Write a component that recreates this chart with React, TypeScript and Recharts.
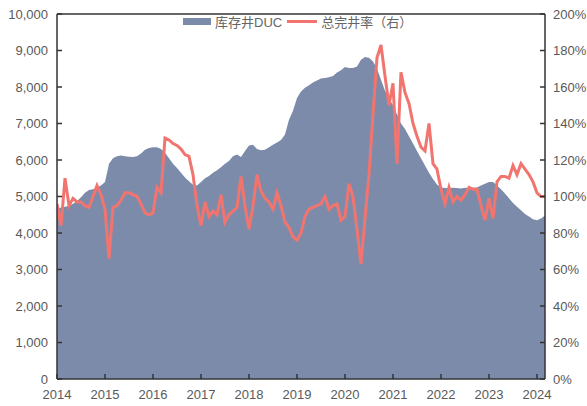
import React from "react";
import {
  ComposedChart,
  Area,
  Line,
  XAxis,
  YAxis,
  ReferenceLine,
} from "recharts";

// monthly, Jan 2014 .. Mar 2024
const START_YEAR = 2014;

const ducStock = [
  4650, 4700, 4720, 4750, 4800, 4880, 4980, 5100, 5180, 5200, 5250, 5300,
  5400, 5900, 6050, 6100, 6120, 6100, 6090, 6080, 6100, 6180, 6280, 6330,
  6350, 6350, 6300, 6200, 6050, 5900, 5780, 5650, 5520, 5420, 5320, 5300,
  5400, 5500, 5560, 5650, 5720, 5800, 5900, 5970, 6100, 6150, 6080, 6250,
  6400, 6420, 6300, 6270, 6280, 6350, 6420, 6480, 6550, 6700, 7100, 7350,
  7700, 7880, 7980, 8050, 8120, 8180, 8230, 8250, 8270, 8300, 8400, 8460,
  8550, 8520, 8520, 8560, 8750, 8820, 8800, 8700, 8500, 8200, 7900, 7700,
  7500, 7250, 7000, 6850, 6650, 6450, 6250, 6050, 5850, 5650, 5480, 5330,
  5250, 5230, 5230, 5240, 5230, 5220, 5240, 5230, 5240, 5250, 5300, 5350,
  5400, 5400, 5300, 5200, 5080, 4950, 4820, 4720, 4620, 4520, 4450, 4380,
  4350, 4400, 4480,
];

// 总完井率, %
const completionRate = [
  96, 84, 110, 95, 99, 97, 97, 95, 94, 100, 106, 101,
  93, 66, 94, 95, 98, 102, 102, 101, 100, 96, 91, 90,
  91, 105, 102, 132, 131, 129, 128, 126, 123, 122, 112, 95,
  84, 97, 89, 92, 90, 101, 86, 90, 92, 94, 111, 95,
  82, 95, 112, 103, 99, 97, 93, 102, 95, 86, 83, 78,
  76, 80, 89, 93, 94, 95, 96, 100, 93, 95, 96, 87,
  89, 107, 100, 82, 63, 88, 112, 145, 176, 183, 166, 150,
  162, 118, 168, 157, 151, 140, 133, 127, 125, 140, 118, 115,
  104, 96, 105, 97, 100, 98, 101, 105, 104, 104, 95, 87,
  99, 88, 108, 111, 111, 110, 117, 112, 118, 115, 112, 108,
  102, 100, 100,
];

const yearTicks = [2014, 2015, 2016, 2017, 2018, 2019, 2020, 2021, 2022, 2023, 2024];
const leftTicks = [0, 1000, 2000, 3000, 4000, 5000, 6000, 7000, 8000, 9000, 10000];
const rightTicks = [0, 20, 40, 60, 80, 100, 120, 140, 160, 180, 200];

const data = ducStock.map((v, i) => ({
  t: START_YEAR + i / 12,
  duc: v,
  rate: completionRate[i],
}));

const AREA_COLOR = "#7d8bab";
const LINE_COLOR = "#f1746f";
const AXIS_COLOR = "#333";
const FONT = "'Liberation Sans', 'Noto Sans CJK SC', sans-serif";
const tickStyle = { fill: "#595959", fontSize: 13, fontFamily: FONT };

export default function App() {
  return (
    <div style={{ position: "fixed", left: 0, top: 0, width: 587, height: 406, background: "#fff" }}>
      <ComposedChart
        width={587}
        height={406}
        data={data}
        margin={{ top: 14, right: 0, bottom: 0, left: 0 }}
      >
        <XAxis
          dataKey="t"
          type="number"
          domain={[2014, 2024.167]}
          ticks={yearTicks}
          height={27}
          tickSize={-5}
          tickMargin={16}
          tick={tickStyle}
          stroke={AXIS_COLOR}
          strokeWidth={1.5}
          allowDataOverflow
        />
        <YAxis
          yAxisId="left"
          domain={[0, 10000]}
          ticks={leftTicks}
          width={57}
          tickSize={-5}
          tickMargin={14}
          tick={tickStyle}
          stroke={AXIS_COLOR}
          strokeWidth={1.5}
          tickFormatter={(v: number) => v.toLocaleString("en-US")}
        />
        <YAxis
          yAxisId="right"
          orientation="right"
          domain={[0, 200]}
          ticks={rightTicks}
          width={42}
          tickSize={-5}
          tickMargin={13}
          tick={tickStyle}
          stroke={AXIS_COLOR}
          strokeWidth={1.5}
          tickFormatter={(v: number) => `${v}%`}
        />
        <Area
          yAxisId="left"
          dataKey="duc"
          type="linear"
          fill={AREA_COLOR}
          fillOpacity={1}
          stroke="none"
          isAnimationActive={false}
        />
        <Line
          yAxisId="right"
          dataKey="rate"
          type="linear"
          stroke={LINE_COLOR}
          strokeWidth={3}
          dot={false}
          isAnimationActive={false}
        />
        <ReferenceLine yAxisId="left" y={10000} stroke={AXIS_COLOR} strokeWidth={1.5} />
      </ComposedChart>
      <div
        style={{
          position: "absolute",
          left: 183,
          top: 12,
          display: "flex",
          alignItems: "center",
          fontFamily: FONT,
          fontSize: 13,
          color: "#666",
          whiteSpace: "nowrap",
        }}
      >
        <span style={{ display: "inline-block", width: 28, height: 7, background: AREA_COLOR, marginRight: 4 }} />
        <span>库存井DUC</span>
        <span style={{ display: "inline-block", width: 30, height: 3, background: LINE_COLOR, margin: "0 4px 0 5px" }} />
        <span>总完井率（右）</span>
      </div>
    </div>
  );
}
